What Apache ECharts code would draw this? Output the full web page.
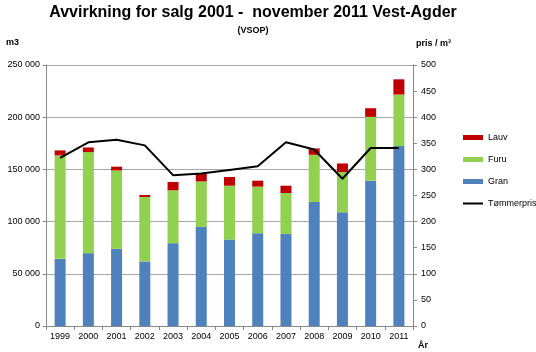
<!DOCTYPE html>
<html>
<head>
<meta charset="utf-8">
<script src="https://cdn.jsdelivr.net/npm/echarts@6/dist/echarts.min.js"></script>
<style>
  html, body { margin: 0; padding: 0; background: #fff; }
  #main { width: 536px; height: 352px; }
</style>
</head>
<body>
<div id="main"></div>
<script>
// år og volum (m3) per treslag, pris per m3
const years = ['1999', '2000', '2001', '2002', '2003', '2004', '2005', '2006', '2007', '2008', '2009', '2010', '2011'];
const gran = [64300, 69800, 73900, 61800, 79300, 94900, 82800, 88900, 88200, 118800, 108900, 139200, 172300];
const furu = [99100, 96800, 75100, 61800, 50700, 43600, 51600, 44600, 39200, 45200, 38600, 61100, 49400];
const lauv = [4800, 4400, 3600, 1900, 7900, 7100, 8300, 5700, 7000, 6100, 8200, 8300, 14600];
const pris = [322, 352, 357, 346, 289, 292, 299, 306, 352, 338, 282, 341, 341];

const font = 'Liberation Sans';
const chart = echarts.init(document.getElementById('main'));

const option = {
  animation: false,
  textStyle: { fontFamily: font },
  title: {
    text: 'Avvirkning for salg 2001 -  november 2011 Vest-Agder',
    subtext: '(VSOP)',
    left: 248,
    textAlign: 'center',
    top: 0,
    itemGap: 5,
    textStyle: { fontSize: 16, fontWeight: 'bold', color: '#000', fontFamily: font },
    subtextStyle: { fontSize: 9, fontWeight: 'bold', color: '#000', fontFamily: font }
  },
  graphic: [
    { type: 'text', left: 6, top: 38, style: { text: 'm3', fontSize: 9, fontWeight: 'bold', fill: '#000', fontFamily: font } },
    { type: 'text', left: 416, top: 39, style: { text: 'pris / m³', fontSize: 9, fontWeight: 'bold', fill: '#000', fontFamily: font } },
    { type: 'text', left: 418, top: 341, style: { text: 'År', fontSize: 9, fontWeight: 'bold', fill: '#000', fontFamily: font } }
  ],
  legend: {
    orient: 'vertical',
    left: 462,
    top: 133,
    padding: 0,
    itemWidth: 20,
    itemHeight: 5,
    itemGap: 13,
    textStyle: { fontSize: 9, color: '#000', fontFamily: font },
    data: [
      { name: 'Lauv', icon: 'rect' },
      { name: 'Furu', icon: 'rect' },
      { name: 'Gran', icon: 'rect' },
      { name: 'Tømmerpris', itemStyle: { opacity: 0 } }
    ]
  },
  grid: { left: 46, right: 123, top: 65, bottom: 26 },
  xAxis: {
    type: 'category',
    data: years,
    axisLine: { lineStyle: { color: '#888' } },
    axisTick: { show: true, length: 4, lineStyle: { color: '#888' } },
    axisLabel: { fontSize: 9, color: '#000', margin: 6 }
  },
  yAxis: [
    {
      type: 'value',
      min: 0,
      max: 250000,
      interval: 50000,
      axisLine: { show: true, lineStyle: { color: '#888' } },
      axisTick: { show: true, length: 3, lineStyle: { color: '#888' } },
      axisLabel: {
        fontSize: 9,
        color: '#000',
        margin: 6,
        formatter: v => String(v).replace(/\B(?=(\d{3})+(?!\d))/g, ' ')
      },
      splitLine: { lineStyle: { color: '#a6a6a6', width: 1 } }
    },
    {
      type: 'value',
      min: 0,
      max: 500,
      interval: 50,
      position: 'right',
      axisLine: { show: true, lineStyle: { color: '#888' } },
      axisTick: { show: true, length: 4, lineStyle: { color: '#888' } },
      axisLabel: { fontSize: 9, color: '#000', margin: 8 },
      splitLine: { show: false }
    }
  ],
  series: [
    { name: 'Gran', type: 'bar', stack: 'v', data: gran, barWidth: 11, itemStyle: { color: '#4f81bd' } },
    { name: 'Furu', type: 'bar', stack: 'v', data: furu, itemStyle: { color: '#92d050' } },
    { name: 'Lauv', type: 'bar', stack: 'v', data: lauv, itemStyle: { color: '#c00000' } },
    {
      name: 'Tømmerpris',
      type: 'line',
      yAxisIndex: 1,
      data: pris,
      symbol: 'none',
      lineStyle: { color: '#000', width: 2 },
      itemStyle: { color: '#000' },
      z: 5
    }
  ]
};

chart.setOption(option);
</script>
</body>
</html>
